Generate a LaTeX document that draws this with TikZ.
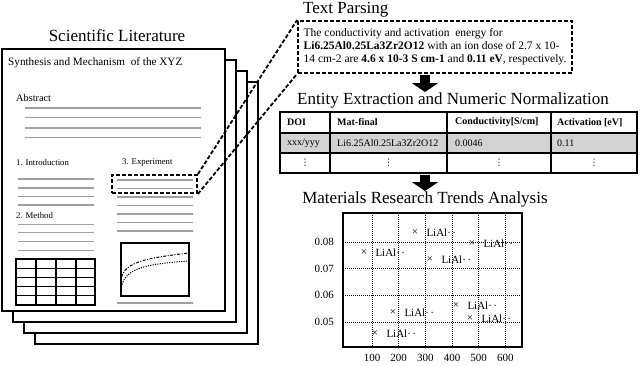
\documentclass[tikz,border=0pt]{standalone}
\usepackage{fontspec}
\setmainfont{Liberation Serif}
\newfontfamily\symfont{DejaVu Sans}
\usepackage{tikz}
\usetikzlibrary{positioning, arrows.meta, calc}

\begin{document}
\begin{tikzpicture}[
    x=1pt, y=-1pt,
    every node/.style={inner sep=0pt, font=\fontsize{11}{13}\selectfont},
    paper/.style={draw, fill=white, line width=1.2pt},
    txtline/.style={draw=gray!75, line width=1.3pt},
    title/.style={font=\fontsize{17}{20}\selectfont},
    small/.style={anchor=west, font=\fontsize{8.75}{10}\selectfont},
    zoomline/.style={line width=1.8pt, dash pattern=on 4pt off 2pt},
    blockarr/.style={line width=10pt, -{Triangle[width=26pt, length=9pt]}},
    tbl/.style={line width=1.3pt},
    cell/.style={anchor=west, font=\fontsize{10}{12}\selectfont},
    gridline/.style={line width=0.6pt, dash pattern=on 1pt off 1pt},
    xmark/.style={font=\fontsize{11}{13}\selectfont},
    ptlabel/.style={font=\fontsize{11}{13}\selectfont}
]
\useasboundingbox (0,0) rectangle (640,365);

% stack of papers
\foreach \k in {3,2,1,0}
  \draw[paper] ({2+11*\k},{49+11*\k}) rectangle ({225+11*\k},{311+11*\k});
\node[title] (lit) at (117,36) {Scientific Literature};

% front page
\node[anchor=west, font=\fontsize{11.2}{13}\selectfont] (ptitle) at (8,63) {Synthesis and Mechanism\ \ of the XYZ};
\node[anchor=west, font=\fontsize{10.3}{12}\selectfont] (abs) at (16,98) {Abstract};
\foreach \y in {108,117.5,128,137.5}
  \draw[txtline] (25,\y) -- (201,\y);
\node[small] (intro) at (16,163) {1. Introduction};
\node[small] (expt) at (122,163) {3. Experiment};
\node[small] (meth) at (16,216) {2. Method};
\foreach \y in {179,188,196.5,205,224.3,232.7,241.7,250.7}
  \draw[txtline] (18,\y) -- (94,\y);
\foreach \y in {180,188.5,197,205.5,214,222.5,231,303}
  \draw[txtline] (117,\y) -- (193,\y);

% small table
\draw[tbl] (16,259) rectangle (95,305);
\foreach \x in {36,56,76}
  \draw[tbl] (\x,259) -- (\x,305);
\foreach \y in {268.2,277.4,286.6,295.8}
  \draw[tbl] (16,\y) -- (95,\y);

% small graph
\draw[tbl] (121,243) rectangle (189,296);
\draw[line width=1pt, dash pattern=on 3pt off 1.5pt on 1pt off 1.5pt]
  (121.5,277) .. controls (126,262) and (146,258) .. (189,253);
\draw[line width=1pt, dash pattern=on 1.2pt off 1.2pt]
  (121.5,287) .. controls (125,268) and (146,264) .. (189,261);

% text parsing
\node[title, anchor=west] (tp) at (303,10) {Text Parsing};
\node[draw, zoomline, minimum width=274, minimum height=52, align=left,
      font=\fontsize{11.5}{13}\selectfont] (parse) at (435,47)
  {The conductivity and activation\ \ energy for\\
   \textbf{Li6.25Al0.25La3Zr2O12} with an ion dose of 2.7 x 10-\\
   14 cm-2 are \textbf{4.6 x 10-3 S cm-1} and \textbf{0.11 eV}, respectively.};
\node[draw, zoomline, minimum width=85, minimum height=18] (sel) at (154.5,184) {};
\draw[zoomline] (sel.north east) -- (parse.north west);
\draw[zoomline] (sel.south east) -- (parse.south west);

\coordinate (a1) at (425,75);
\coordinate (b1) at (425,92);
\draw[blockarr] (a1) -- (b1);

% extraction table
\node[title] (ent) at (453,100) {Entity Extraction and Numeric Normalization};
\fill[gray!35] (280,133) rectangle (637,153);
\draw[tbl] (280,112) rectangle (637,173);
\foreach \y in {133,153}
  \draw[tbl] (280,\y) -- (637,\y);
\foreach \x in {330,447,551}
  \draw[tbl] (\x,112) -- (\x,173);
\node[cell] (h1) at (287,122.5) {\textbf{DOI}};
\node[cell] (h2) at (337,122.5) {\textbf{Mat-final}};
\node[cell] (h3) at (455,122.5) {\textbf{Conductivity[S/cm]}};
\node[cell] (h4) at (557,122.5) {\textbf{Activation [eV]}};
\node[cell] (r1) at (287,143) {xxx/yyy};
\node[cell] (r2) at (337,143) {Li6.25Al0.25La3Zr2O12};
\node[cell] (r3) at (455,143) {0.0046};
\node[cell] (r4) at (557,143) {0.11};
\foreach \x [count=\i] in {305,388.5,499,594}
  \node[font=\symfont\fontsize{9}{10}\selectfont] (d\i) at (\x,163) {⋮};

\coordinate (a2) at (425,175);
\coordinate (b2) at (425,191);
\draw[blockarr] (a2) -- (b2);

% trends plot
\node[title] (ana) at (425,199) {Materials Research Trends Analysis};
\foreach \x in {372,398.7,425.3,452,478.7,505.3}
  \draw[gridline] (\x,213) -- (\x,347);
\foreach \y in {242,268.7,295.3,322}
  \draw[gridline] (343,\y) -- (522,\y);
\draw[line width=2.2pt] (343,213) rectangle (522,347);
\foreach \v/\y in {0.08/242,0.07/268.7,0.06/295.3,0.05/322}
  \node[anchor=east] (yt\v) at (334,\y) {\v};
\foreach \v/\x in {100/372,200/398.7,300/425.3,400/452,500/478.7,600/505.3}
  \node (xt\v) at (\x,358) {\v};
\foreach \px/\py [count=\i] in {415/233,472/244,364/253,430/260,456/306,393/313,470/319,375/334} {
  \node[xmark] (p\i) at (\px,\py) {×};
  \node[ptlabel, right=8pt of p\i] (l\i) {LiAl·\hspace{1.5pt}·};
}

\end{tikzpicture}
\end{document}
